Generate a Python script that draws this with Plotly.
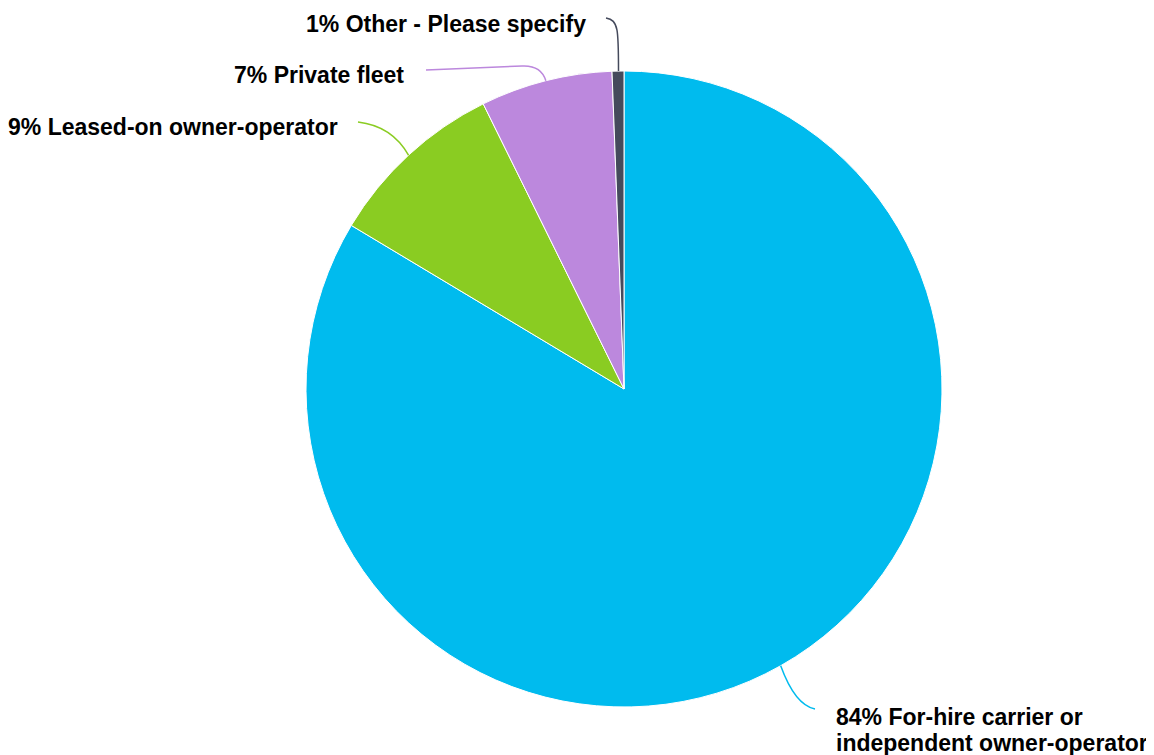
import math
import plotly.graph_objects as go

# ---- data ----
categories = ["For-hire carrier or<br>independent owner-operator", "Leased-on owner-operator",
              "Private fleet", "Other - Please specify"]
values = [83.6, 9.1, 6.7, 0.6]
pct_labels = ["84%", "9%", "7%", "1%"]
colors = ["#00BBEE", "#8ACC22", "#BC88DD", "#454A5C"]

OFF = 8  # page body margin offset
W, H = 1154 - OFF, 755 - OFF
CX, CY, R = 624 - OFF, 389 - OFF, 318  # pie centre / radius in figure pixels


def px(x):
    return x / W


def py(y):
    return 1 - y / H


def sx(x):  # reference (screen) pixel -> paper
    return px(x - OFF)


def sy(y):
    return py(y - OFF)


fig = go.Figure(go.Pie(
    labels=categories, values=values, sort=False, direction="clockwise", rotation=0,
    marker=dict(colors=colors, line=dict(color="white", width=1)),
    textinfo="none", hoverinfo="label+percent", showlegend=False,
    domain=dict(x=[px(CX - R), px(CX + R)], y=[py(CY + R), py(CY - R)]),
))

# edge points at slice mid-angles (computed from data)
total = sum(values)
edges = []
acc = 0
for v in values:
    mid = (acc + v / 2) / total * 2 * math.pi
    edges.append((CX + R * math.sin(mid), CY - R * math.cos(mid)))
    acc += v

shapes = []
for i, (ex, ey) in enumerate(edges):
    ex_r = ex + (0.5 if i == 3 else 0)
    path = f"M {px(ex_r)},{py(ey)}"
    if i == 0:
        path += f" Q {sx(795)},{sy(705)} {sx(815)},{sy(709)}"
    elif i == 1:
        path += f" Q {sx(392)},{sy(126)} {sx(358)},{sy(122)}"
    elif i == 2:
        path += f" Q {sx(541)},{sy(65)} {sx(522)},{sy(66)} L {sx(426)},{sy(70)}"
    else:
        path += f" C {px(ex_r)},{sy(30)} {px(ex_r)},{sy(20)} {sx(606)},{sy(18)}"
    shapes.append(dict(type="path", path=path, xref="paper", yref="paper",
                       line=dict(color=colors[i], width=1.5)))

FONT = dict(family="Liberation Sans, Arial, sans-serif", size=23, color="black")

annotations = []
# label placements (reference pixels)
lines0 = categories[0].split("<br>")
annotations.append(dict(x=sx(834), y=sy(717), xanchor="left", yanchor="middle",
                        text=f"<b>{pct_labels[0]} {lines0[0]}</b>"))
annotations.append(dict(x=sx(834), y=sy(743), xanchor="left", yanchor="middle",
                        text=f"<b>{lines0[1]}</b>"))
annotations.append(dict(x=sx(340), y=sy(127), xanchor="right", yanchor="middle",
                        text=f"<b>{pct_labels[1]} {categories[1]}</b>"))
annotations.append(dict(x=sx(406), y=sy(75), xanchor="right", yanchor="middle",
                        text=f"<b>{pct_labels[2]} {categories[2]}</b>"))
annotations.append(dict(x=sx(588), y=sy(24), xanchor="right", yanchor="middle",
                        text=f"<b>{pct_labels[3]} {categories[3]}</b>"))
for a in annotations:
    a.update(xref="paper", yref="paper", showarrow=False, font=FONT)

fig.update_layout(
    width=W, height=H, margin=dict(l=0, r=0, t=0, b=0),
    paper_bgcolor="white", plot_bgcolor="white",
    shapes=shapes, annotations=annotations,
)

fig.write_html("out.html")
